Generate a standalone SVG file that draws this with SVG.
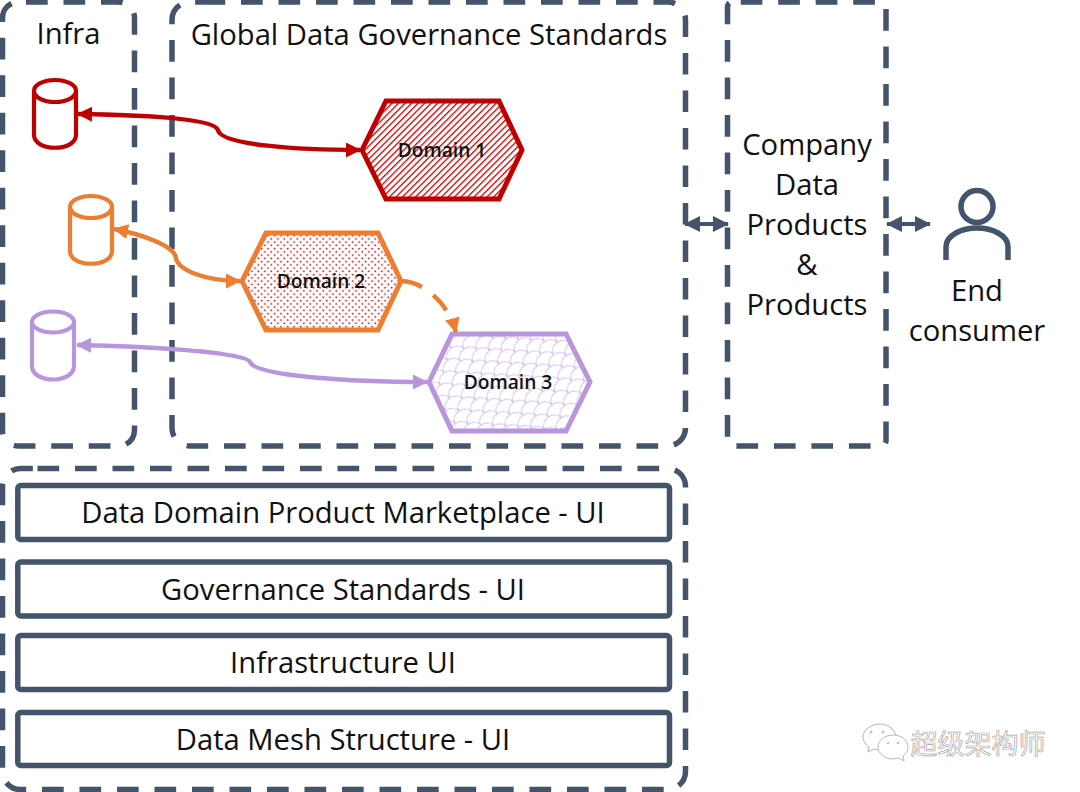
<svg xmlns="http://www.w3.org/2000/svg" width="1080" height="792" viewBox="0 0 1080 792">
<style>
.t{font-family:"Open Sans","Noto Sans","Noto Sans CJK SC",sans-serif;font-size:29.2px;fill:#111;text-anchor:middle}
.d{font-family:"Open Sans","Noto Sans",sans-serif;font-size:19.2px;font-weight:600;fill:#111;text-anchor:middle}
.dash{fill:none;stroke:#44546a;stroke-width:5.5;stroke-dasharray:21.7 15.8}
.bar{fill:#fff;stroke:#44546a;stroke-width:5.5;stroke-linejoin:round}
.cyl{fill:#fff;stroke-width:4.2}
.hex{stroke-width:5}
.conn{fill:none;stroke-width:4.5}
</style>
<defs>
<pattern id="p1" width="4.600" height="4.600" patternUnits="userSpaceOnUse" patternTransform="rotate(-45)"><rect width="4.600" height="4.600" fill="#fff"/><rect width="4.600" height="1.300" fill="#c00000"/></pattern>
<pattern id="p2" width="6.500" height="6.500" patternUnits="userSpaceOnUse"><rect width="6.500" height="6.500" fill="#fff"/><circle cx="1.600" cy="1.600" r="1" fill="#d42020"/><circle cx="4.850" cy="4.850" r="1" fill="#d42020"/></pattern>
<pattern id="p3" width="20" height="16" patternUnits="userSpaceOnUse" patternTransform="rotate(-35)"><rect width="20" height="16" fill="#fff"/><path d="M0 8A10 8 0 0 1 20 8M-10 16A10 8 0 0 1 10 16M10 16A10 8 0 0 1 30 16" fill="none" stroke="#c4a8e4" stroke-width="0.800"/></pattern>
<marker id="aR" markerWidth="15" markerHeight="15" refX="14" refY="7.5" orient="auto-start-reverse" markerUnits="userSpaceOnUse"><path d="M0 0L15 7.5L0 15Z" fill="#c00000"/></marker>
<marker id="aO" markerWidth="15" markerHeight="15" refX="14" refY="7.5" orient="auto-start-reverse" markerUnits="userSpaceOnUse"><path d="M0 0L15 7.5L0 15Z" fill="#ed7d31"/></marker>
<marker id="aP" markerWidth="15" markerHeight="15" refX="14" refY="7.5" orient="auto-start-reverse" markerUnits="userSpaceOnUse"><path d="M0 0L15 7.5L0 15Z" fill="#b995dd"/></marker>
<marker id="aG" markerWidth="16" markerHeight="16" refX="15" refY="8" orient="auto-start-reverse" markerUnits="userSpaceOnUse"><path d="M0 0L16 8L0 16Z" fill="#44546a"/></marker>
</defs>
<rect width="1080" height="792" fill="#fff"/>
<g id="infra"><path class="dash" d="M26 2H118.500A16 16 0 0 1 134.500 18V430A16 16 0 0 1 118.500 446H18.500A16 16 0 0 1 2.500 430V18A16 16 0 0 1 18.500 2H26"/><text class="t" x="68.500" y="44">Infra</text></g>
<g id="governance"><path class="dash" d="M203.500 2H667.500A18 18 0 0 1 685.500 20V428A18 18 0 0 1 667.500 446H190A18 18 0 0 1 172 428V20A18 18 0 0 1 190 2H203.500"/><text class="t" x="429" y="45">Global Data Governance Standards</text></g>
<g id="company"><path class="dash" d="M740.700 2H881A5 5 0 0 1 886 7V441A5 5 0 0 1 881 446H732.500A5 5 0 0 1 727.500 441V7A5 5 0 0 1 732.500 2H740.700"/>
<text class="t" x="807" y="155">Company</text><text class="t" x="807" y="195">Data</text><text class="t" x="807" y="235">Products</text><text class="t" x="807" y="275">&amp;</text><text class="t" x="807" y="315">Products</text></g>
<g id="ui"><path class="dash" d="M37.500 468.500H667.500A18 18 0 0 1 685.500 486.500V771.500A18 18 0 0 1 667.500 789.500H20.500A18 18 0 0 1 2.500 771.500V486.500A18 18 0 0 1 20.500 468.500H37.500"/></g>
<g id="bar1"><rect class="bar" x="17.800" y="485.500" width="651.700" height="54" rx="3"/><text class="t" x="343" y="523">Data Domain Product Marketplace - UI</text></g>
<g id="bar2"><rect class="bar" x="17.800" y="562" width="651.700" height="54" rx="3"/><text class="t" x="343" y="600">Governance Standards - UI</text></g>
<g id="bar3"><rect class="bar" x="17.800" y="635.500" width="651.700" height="54" rx="3"/><text class="t" x="343" y="673">Infrastructure UI</text></g>
<g id="bar4"><rect class="bar" x="17.800" y="712.500" width="651.700" height="53" rx="3"/><text class="t" x="343" y="750">Data Mesh Structure - UI</text></g>
<g id="db1" stroke="#c00000"><path class="cyl" d="M34 91V135C34 152 76 152 76 135V91"/><ellipse class="cyl" cx="55" cy="91" rx="21" ry="11"/></g>
<g id="db2" stroke="#ed7d31"><path class="cyl" d="M70 207V251C70 268 112 268 112 251V207"/><ellipse class="cyl" cx="91" cy="207" rx="21" ry="11"/></g>
<g id="db3" stroke="#b995dd"><path class="cyl" d="M32 322V366C32 384 74 384 74 366V322"/><ellipse class="cyl" cx="53" cy="322" rx="21" ry="10.500"/></g>
<g id="domain1"><polygon class="hex" points="362,150 386,101 499,101 522,150 499,199 386,199" fill="url(#p1)" stroke="#c00000"/><text class="d" x="442" y="157">Domain 1</text></g>
<g id="domain2"><polygon class="hex" points="242,281 266,233 378,233 401,281 378,330 266,330" fill="url(#p2)" stroke="#ed7d31"/><text class="d" x="321" y="288">Domain 2</text></g>
<g id="domain3"><polygon class="hex" points="429,382 452,334 566,334 590,382 566,431 452,431" fill="url(#p3)" stroke="#b995dd"/><text class="d" x="508" y="389">Domain 3</text></g>
<g id="connectors">
<path class="conn" stroke="#c00000" marker-start="url(#aR)" marker-end="url(#aR)" d="M78 114C140 115 214 118 218 130C220 145 300 150 360 150"/>
<path class="conn" stroke="#ed7d31" marker-start="url(#aO)" marker-end="url(#aO)" d="M114 229C140 234 174 245 176 258C178 270 205 281 240 281"/>
<path class="conn" stroke="#b995dd" marker-start="url(#aP)" marker-end="url(#aP)" d="M77 345C140 346 248 352 250 362C255 376 350 382 427 382"/>
<path class="conn" stroke="#ed7d31" stroke-dasharray="20 14" marker-end="url(#aO)" d="M403 281C425 283 448 303 456 332"/>
<path fill="none" stroke="#44546a" stroke-width="4" marker-start="url(#aG)" marker-end="url(#aG)" d="M685 224H728"/>
<path fill="none" stroke="#44546a" stroke-width="4" marker-start="url(#aG)" marker-end="url(#aG)" d="M887 224H930"/>
</g>
<g id="consumer"><circle cx="977" cy="206.500" r="16" fill="none" stroke="#44546a" stroke-width="5.500"/><path d="M946 260V247C946 235 962 228 977 228C992 228 1008 235 1008 247V260" fill="none" stroke="#44546a" stroke-width="5.500"/>
<text class="t" x="977" y="301">End</text><text class="t" x="977" y="341">consumer</text></g>
<g id="watermark" opacity="0.99"><g fill="#fff" stroke="#b5b5b5" stroke-width="1"><path d="M880 724C871 724 863 730 863 737C863 741 866 745 869 747L868 752L874 749C876 750 878 750 880 750C888 750 896 744 896 737C896 730 888 724 880 724Z"/><path d="M893 735C884 735 878 741 878 747C878 753 884 759 893 759C895 759 897 758 899 758L904 761L903 756C906 754 908 751 908 747C908 741 902 735 893 735Z"/></g><g fill="#c4c4c4"><circle cx="871" cy="732" r="1.500"/><circle cx="883" cy="732" r="1.500"/><circle cx="888" cy="743" r="1.300"/><circle cx="898" cy="743" r="1.300"/></g><text x="978" y="754" font-family="'Noto Sans CJK SC',sans-serif" font-size="27" fill="#fff" stroke="#a8a8a8" stroke-width="0.700" text-anchor="middle">超级架构师</text></g>
</svg>
